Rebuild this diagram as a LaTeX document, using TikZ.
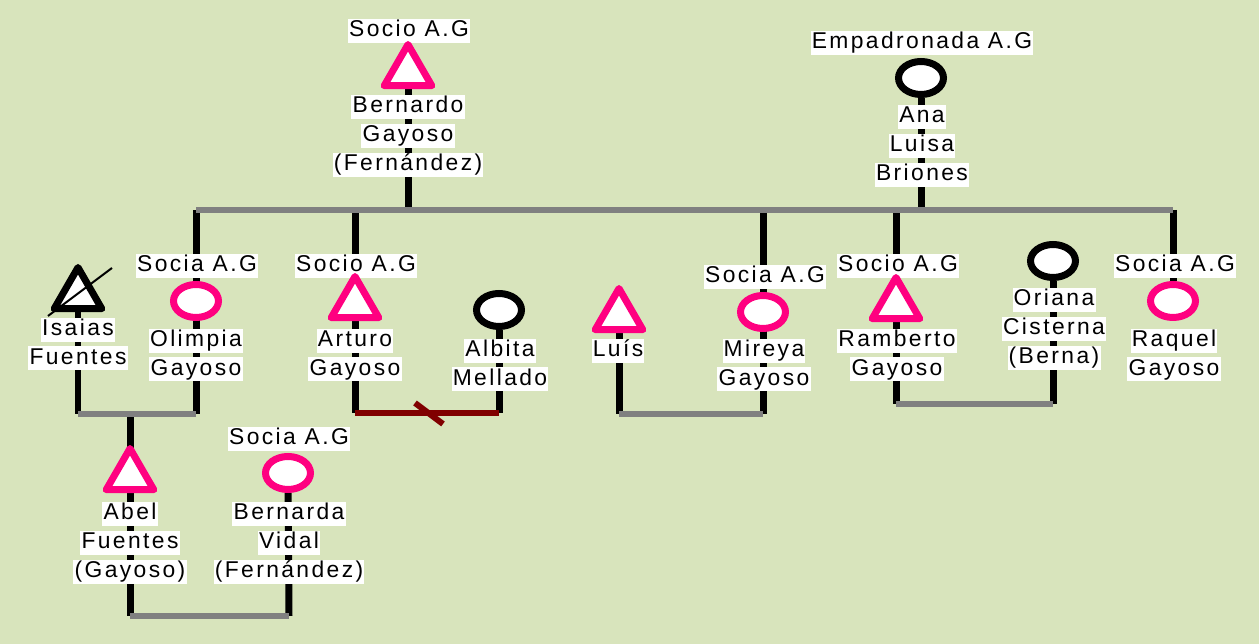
\documentclass[tikz,border=0pt]{standalone}
\usepackage{fontspec}
\setmainfont{Liberation Sans}[LetterSpace=10.5]
\usetikzlibrary{shapes.geometric,backgrounds}
\definecolor{sociopink}{HTML}{FF0080}
\definecolor{fondo}{HTML}{D8E4BC}
\definecolor{divorcio}{HTML}{800000}
\setlength{\fboxsep}{0.7pt}
\newcommand{\wl}[1]{\colorbox{white}{\rule[-2.8pt]{0pt}{12.3pt}#1}}

\begin{document}
\begin{tikzpicture}[x = 0.02cm, y = -0.02cm,
    every node/.style = {inner sep = 0pt},
    lbl/.style = {align = center, font = \fontsize{13}{16.44}\selectfont},
    male/.style = {shape = regular polygon, regular polygon sides = 3, minimum size = 1.1cm,
        draw = sociopink, line width = 0.14cm, line join = round, fill = white},
    female/.style = {shape = ellipse, minimum width = 0.9cm, minimum height = 0.66cm,
        draw = sociopink, line width = 0.14cm, fill = white},
    kin/.style = {line width = 0.14cm},
    bond/.style = {line width = 0.12cm, draw = gray},
    divorce/.style = {line width = 0.12cm, draw = divorcio}]
    \useasboundingbox (0,0) rectangle (1259,644);

    % parents
    \node[lbl] (bernardo-t) at (409,31) {\wl{Socio A.G}};
    \node[male] (bernardo) at (408,72) {};
    \node[lbl] (bernardo-n) at (408,136) {\wl{Bernardo}\\\wl{Gayoso}\\\wl{(Fernández)}};
    \node[lbl] (ana-t) at (922,43) {\wl{Empadronada A.G}};
    \node[female, draw = black] (ana) at (921,78) {};
    \node[lbl] (ana-n) at (922,146) {\wl{Ana}\\\wl{Luisa}\\\wl{Briones}};

    % children and partners
    \node[male, draw = black] (isaias) at (78,295) {};
    \node[lbl] (isaias-n) at (78,344) {\wl{Isaias}\\\wl{Fuentes}};
    \node[lbl] (olimpia-t) at (197,266) {\wl{Socia A.G}};
    \node[female] (olimpia) at (196,301) {};
    \node[lbl] (olimpia-n) at (196,355) {\wl{Olimpia}\\\wl{Gayoso}};
    \node[lbl] (arturo-t) at (356,266) {\wl{Socio A.G}};
    \node[male] (arturo) at (355,304) {};
    \node[lbl] (arturo-n) at (355,355) {\wl{Arturo}\\\wl{Gayoso}};
    \node[female, draw = black] (albita) at (499,310) {};
    \node[lbl] (albita-n) at (500,365) {\wl{Albita}\\\wl{Mellado}};
    \node[male] (luis) at (619,316) {};
    \node[lbl] (luis-n) at (618,351) {\wl{Luís}};
    \node[lbl] (mireya-t) at (765,277) {\wl{Socia A.G}};
    \node[female] (mireya) at (763,312) {};
    \node[lbl] (mireya-n) at (764,365) {\wl{Mireya}\\\wl{Gayoso}};
    \node[lbl] (ramberto-t) at (898,266) {\wl{Socio A.G}};
    \node[male] (ramberto) at (896,305) {};
    \node[lbl] (ramberto-n) at (897,355) {\wl{Ramberto}\\\wl{Gayoso}};
    \node[female, draw = black] (oriana) at (1053,261) {};
    \node[lbl] (oriana-n) at (1054,329) {\wl{Oriana}\\\wl{Cisterna}\\\wl{(Berna)}};
    \node[lbl] (raquel-t) at (1175,266) {\wl{Socia A.G}};
    \node[female] (raquel) at (1173,301) {};
    \node[lbl] (raquel-n) at (1174,355) {\wl{Raquel}\\\wl{Gayoso}};

    % grandchild
    \node[male] (abel) at (130,476) {};
    \node[lbl] (abel-n) at (130,543) {\wl{Abel}\\\wl{Fuentes}\\\wl{(Gayoso)}};
    \node[lbl] (bernarda-t) at (289,439) {\wl{Socia A.G}};
    \node[female] (bernarda) at (288,473) {};
    \node[lbl] (bernarda-n) at (289,543) {\wl{Bernarda}\\\wl{Vidal}\\\wl{(Fernández)}};

    \coordinate (bar-l) at (196,210);
    \coordinate (bar-r) at (1173,210);
    \coordinate (isaias-b) at (78,414);
    \coordinate (olimpia-b) at (196,414);
    \coordinate (union) at (130,414);
    \coordinate (arturo-b) at (355,413);
    \coordinate (albita-b) at (499,413);
    \coordinate (luis-b) at (619,414);
    \coordinate (mireya-b) at (763,414);
    \coordinate (ramberto-b) at (896,404);
    \coordinate (oriana-b) at (1053,404);
    \coordinate (abel-b) at (130,616);
    \coordinate (bernarda-b) at (289,616);

    % deceased mark
    \draw[line width = 0.04cm] (isaias) ++(-30,21) -- ++(64,-48);

    \begin{scope}[on background layer]
        \fill[fondo] (0,0) rectangle (1259,644);
        \draw[kin] (bernardo) -- (bernardo |- bar-l);
        \draw[kin] (ana) -- (ana |- bar-l);
        \draw[kin] (olimpia |- bar-l) -- (olimpia-b);
        \draw[kin] (arturo |- bar-l) -- (arturo-b);
        \draw[kin] (mireya |- bar-l) -- (mireya-b);
        \draw[kin] (ramberto |- bar-l) -- (ramberto-b);
        \draw[kin] (raquel |- bar-l) -- (raquel);
        \draw[kin] (isaias) -- (isaias-b);
        \draw[kin] (albita) -- (albita-b);
        \draw[kin] (luis) -- (luis-b);
        \draw[kin] (oriana) -- (oriana-b);
        \draw[kin] (union) -- (abel-b);
        \draw[kin] (bernarda) -- (bernarda-b);
        \draw[bond] (bar-l) -- (bar-r);
        \draw[bond] (isaias-b) -- (olimpia-b);
        \draw[bond] (luis-b) -- (mireya-b);
        \draw[bond] (ramberto-b) -- (oriana-b);
        \draw[bond] (abel-b) -- (bernarda-b);
        \draw[divorce] (arturo-b) -- (albita-b);
        \draw[divorce] (arturo-b) ++(60,-10) -- ++(28,21);
    \end{scope}
\end{tikzpicture}
\end{document}
